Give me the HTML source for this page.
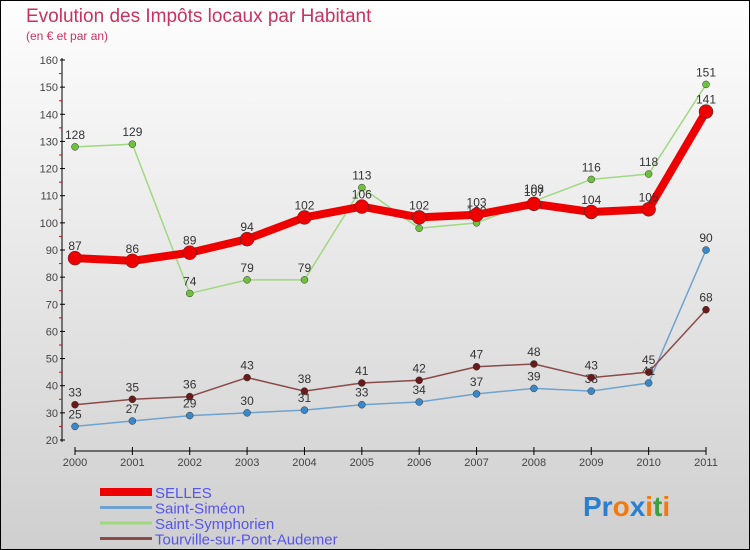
<!DOCTYPE html>
<html><head><meta charset="utf-8"><style>
body{margin:0;}
svg{display:block;font-family:"Liberation Sans",sans-serif;}
</style></head><body>
<svg id="c" width="750" height="550" xmlns="http://www.w3.org/2000/svg">
<defs><linearGradient id="bg" x1="0" y1="0" x2="0" y2="1"><stop offset="0" stop-color="#fefefe"/><stop offset="1" stop-color="#cfcfcf"/></linearGradient></defs>
<rect x="0.5" y="0.5" width="749" height="549" fill="url(#bg)" stroke="#000"/>
<text x="26" y="22" font-size="19" fill="#c8325f">Evolution des Impôts locaux par Habitant</text>
<text x="26" y="40" font-size="12" fill="#c8325f">(en € et par an)</text>
<g id="axes"></g>
<g id="series"></g>
<g id="legend"></g>
<text x="583" y="516" font-size="28" font-weight="bold"><tspan fill="#2a7fd0">Pr</tspan><tspan fill="#f07a10">o</tspan><tspan fill="#2a7fd0">x</tspan><tspan fill="#f07a10">i</tspan><tspan fill="#3aa040">t</tspan><tspan fill="#f07a10">i</tspan></text>
</svg>
<script>
const years=[2000,2001,2002,2003,2004,2005,2006,2007,2008,2009,2010,2011];
const yTicks=[20,30,40,50,60,70,80,90,100,110,120,130,140,150,160];
const selles=[87,86,89,94,102,106,102,103,107,104,105,141];
const simeon=[25,27,29,30,31,33,34,37,39,38,41,90];
const symphorien=[128,129,74,79,79,113,98,100,108,116,118,151];
const tourville=[33,35,36,43,38,41,42,47,48,43,45,68];
const NS="http://www.w3.org/2000/svg";
function X(i){return 75+i*(706-75)/(years.length-1);}
function Y(v){return 440-(v-20)*(380/140);}
function mk(t,a,p){const e=document.createElementNS(NS,t);for(const k in a)e.setAttribute(k,a[k]);p.appendChild(e);return e;}
const ax=document.getElementById('axes');
let e=mk('line',{x1:62,y1:58,x2:62,y2:442,stroke:'#000','stroke-width':1},ax);


e=mk('line',{x1:75,y1:451,x2:706,y2:451,stroke:'#000','stroke-width':1},ax);


yTicks.forEach(v=>{
 mk('line',{x1:60,y1:Y(v),x2:65,y2:Y(v),stroke:'#000'},ax);
 if(v<160)mk('line',{x1:59,y1:Y(v+5),x2:62,y2:Y(v+5),stroke:'#e00'},ax);
 const t=mk('text',{x:58,y:Y(v)+4,'font-size':11,fill:'#444','text-anchor':'end'},ax);
 t.textContent=v;
 
 
});
years.forEach((y,i)=>{
 mk('line',{x1:X(i),y1:447,x2:X(i),y2:455,stroke:'#000'},ax);
 const t=mk('text',{x:X(i),y:466,'font-size':11,fill:'#444','text-anchor':'middle'},ax);
 t.textContent=y;
 
 
});
const sg=document.getElementById('series');
function series(data,name,color,dot,w,r){
 const g=mk('g',{},sg);
 
 
 const p=mk('polyline',{points:data.map((v,i)=>X(i)+','+Y(v)).join(' '),fill:'none',stroke:color,'stroke-width':w,'stroke-linejoin':'round'},g);
 
 
 data.forEach((v,i)=>{
  const c=mk('circle',{cx:X(i),cy:Y(v),r:r,fill:dot,stroke:'#333','stroke-width':0.5},g);
  
  
  const t=mk('text',{x:X(i),y:Y(v)-8,'font-size':12,fill:'#333','text-anchor':'middle'},g);
  t.textContent=v;
  
  
 });
}
series(simeon,'saint-simeon','#6fa3cf','#3a88c8',1.5,3.5);
series(tourville,'tourville','#8a4a4a','#6a1a1a',1.5,3.5);
series(symphorien,'saint-symphorien','#a0d880','#70c040',1.5,3.5);
series(selles,'selles','#ee0000','#ee0000',8,7);
const lg=document.getElementById('legend');
[['SELLES','#ee0000',8],['Saint-Siméon','#6fa3cf',3],['Saint-Symphorien','#a0d880',3],['Tourville-sur-Pont-Audemer','#8a4a4a',3]].forEach((d,i)=>{
 const y=492+i*15.5;
 const l=mk('line',{x1:100,y1:y,x2:152,y2:y,stroke:d[1],'stroke-width':d[2]},lg);
 
 
 const t=mk('text',{x:155,y:y+6,'font-size':15,fill:'#5555ee'},lg);
 t.textContent=d[0];
 
 
});
</script>
</body></html>
